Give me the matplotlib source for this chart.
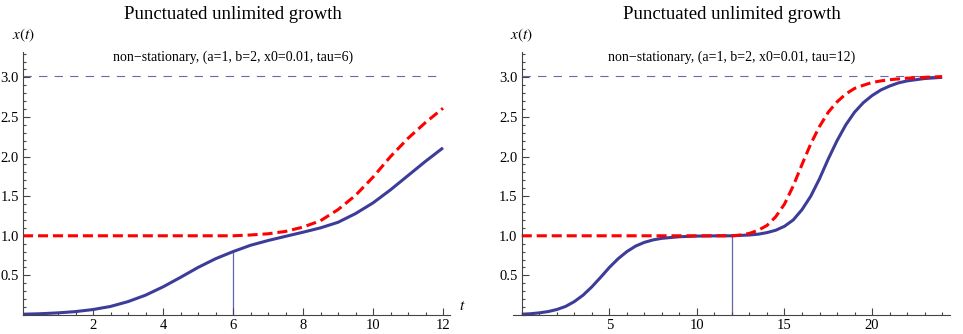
import numpy as np
import matplotlib.pyplot as plt
from matplotlib.ticker import MultipleLocator, FixedLocator

plt.rcParams['font.family'] = ['Liberation Serif', 'DejaVu Serif']
plt.rcParams['mathtext.fontset'] = 'stix'

# values
# left panel, tau = 6
t_left = [0, 0.5, 1, 1.5, 2, 2.5, 3, 3.5, 4, 4.5, 5, 5.5, 6, 6.5, 7, 7.5,
          8, 8.5, 9, 9.5, 10, 10.5, 11, 11.5, 12]
x_left = [0.01, 0.016, 0.027, 0.043, 0.069, 0.108, 0.169, 0.25, 0.355, 0.475,
          0.6, 0.71, 0.80, 0.88, 0.94, 0.993, 1.045, 1.10, 1.17, 1.28, 1.415,
          1.58, 1.76, 1.94, 2.11]
t_left_k = [0, 6, 6.5, 7, 7.5, 8, 8.5, 9, 9.5, 10, 10.5, 11, 11.5, 12]
k_left = [1.0, 1.0, 1.01, 1.025, 1.055, 1.11, 1.19, 1.33, 1.51, 1.74, 2.0,
          2.23, 2.43, 2.61]

# right panel, tau = 12
t_right_x = [0, 0.5, 1, 1.5, 2, 2.5, 3, 3.5, 4, 4.5, 5, 5.5, 6, 6.5, 7, 7.5,
             8, 9, 10, 11, 12, 13, 13.5, 14, 14.5, 15, 15.5, 16, 16.5, 17,
             17.5, 18, 18.5, 19, 19.5, 20, 20.5, 21, 21.5, 22, 22.5, 23, 24]
x_right = [0.01, 0.016, 0.027, 0.043, 0.069, 0.108, 0.169, 0.25, 0.355, 0.475,
           0.6, 0.71, 0.80, 0.87, 0.917, 0.948, 0.968, 0.988, 0.996, 0.999,
           1.0, 1.01, 1.02, 1.04, 1.07, 1.12, 1.2, 1.33, 1.50, 1.72, 1.97,
           2.2, 2.40, 2.56, 2.68, 2.77, 2.84, 2.89, 2.93, 2.955, 2.97, 2.985,
           3.0]
t_right_k = [0, 12, 12.5, 13, 13.5, 14, 14.5, 15, 15.5, 16, 16.5, 17, 17.5,
             18, 18.5, 19, 19.5, 20, 20.5, 21, 22, 23, 24]
k_right = [1.0, 1.0, 1.01, 1.03, 1.07, 1.13, 1.24, 1.40, 1.63, 1.90, 2.16,
           2.38, 2.56, 2.69, 2.79, 2.86, 2.90, 2.935, 2.955, 2.97, 2.99, 3.0,
           3.01]

limit_level = 3.02
taus = [6, 12]
t_ends = [12, 24]
subtitles = ['non\u2212stationary, (a=1, b=2, x0=0.01, tau=6)',
             'non\u2212stationary, (a=1, b=2, x0=0.01, tau=12)']
title = 'Punctuated unlimited growth'

blue = '#3d3d99'
axcol = '#444444'

fig = plt.figure(figsize=(9.63, 3.34), dpi=100)
ax1 = fig.add_axes([23 / 963, 19 / 334, 427 / 963, 263 / 334])
ax2 = fig.add_axes([513 / 963, 19 / 334, 437 / 963, 263 / 334])

panels = [
    (ax1, t_left, x_left, t_left_k, k_left, (0, 12.2), 2, 0.5),
    (ax2, t_right_x, x_right, t_right_k, k_right, (-0.5, 24.45), 5, 1),
]

for i, (ax, tx, xv, tk, kv, xlim, major, minor) in enumerate(panels):
    tau = taus[i]
    ax.plot([0, t_ends[i]], [limit_level, limit_level], color='#6a6aaa',
            lw=0.8, dashes=(7.5, 6.5))
    ax.vlines(tau, 0, np.interp(tau, tx, xv), color=blue, lw=0.9, alpha=0.8)
    ax.plot(tx, xv, color=blue, lw=2.2, solid_capstyle='butt',
            solid_joinstyle='round')
    ax.plot(tk, kv, color='red', lw=2.2, dashes=(3.3, 1.6),
            dash_joinstyle='round')

    ax.set_xlim(*xlim)
    ax.set_ylim(0, 3.32)
    for s in ['top', 'right']:
        ax.spines[s].set_visible(False)
    ax.spines['left'].set_position(('data', 0))
    ax.spines['left'].set_color(axcol)
    ax.spines['bottom'].set_color(axcol)

    ax.xaxis.set_major_locator(FixedLocator(np.arange(major, t_ends[i] + 0.1, major)))
    ax.xaxis.set_minor_locator(MultipleLocator(minor))
    ax.yaxis.set_major_locator(FixedLocator([0.5, 1.0, 1.5, 2.0, 2.5, 3.0]))
    ax.yaxis.set_minor_locator(MultipleLocator(0.1))
    ax.yaxis.set_major_formatter(plt.FuncFormatter(lambda v, p: f'{v:.1f}'))
    ax.tick_params(which='both', direction='in', color=axcol, labelsize=10.5,
                   width=0.8)
    ax.tick_params(which='major', length=5, pad=3)
    ax.tick_params(which='minor', length=2.5)

    mid = t_ends[i] / 2
    ax.text(mid, 3.25, subtitles[i], ha='center', va='center', fontsize=10)
    ax.text(mid, 3.79, title, ha='center', va='center', fontsize=13.5,
            clip_on=False)
    ax.text(0, 3.53, r'$x(t)$', ha='center', va='center', fontsize=11,
            clip_on=False)

ax1.text(12.55, 0.02, r'$t$', ha='center', va='bottom', fontsize=11,
         clip_on=False)

fig.savefig('out.png', dpi=100)
